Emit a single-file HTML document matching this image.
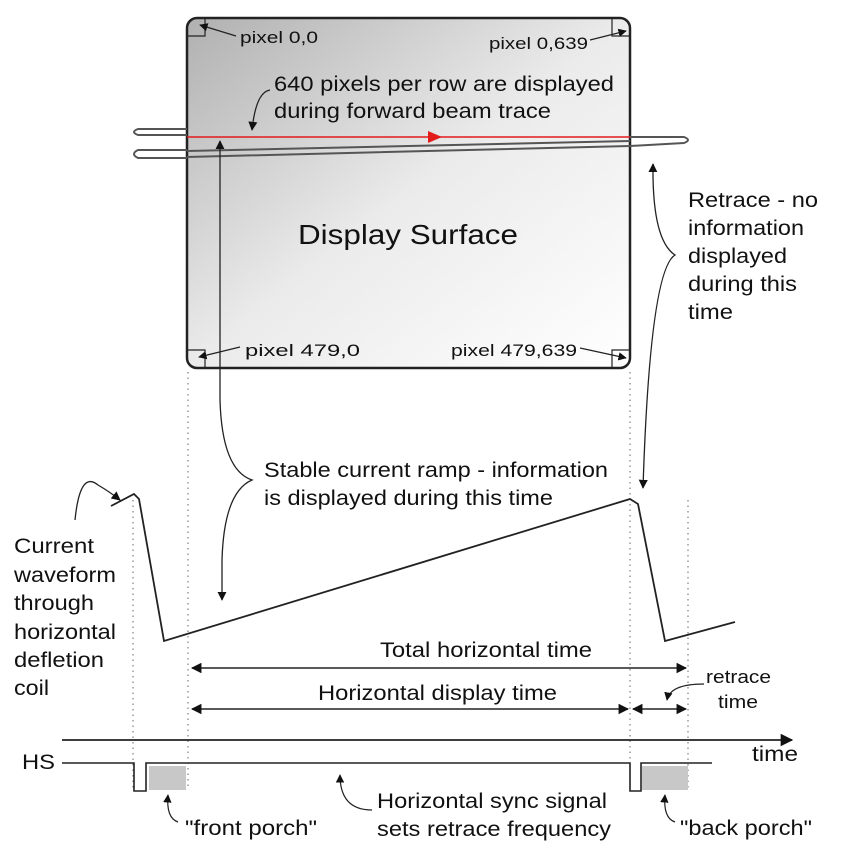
<!DOCTYPE html>
<html><head><meta charset="utf-8"><style>
html,body{margin:0;padding:0;background:#fff}
svg{display:block}
text{font-family:"Liberation Sans",sans-serif;fill:#111}
</style></head><body>
<svg width="865" height="859" viewBox="0 0 865 859" xmlns="http://www.w3.org/2000/svg">
<defs>
<linearGradient id="g" x1="0" y1="0" x2="1" y2="1">
<stop offset="0" stop-color="#b0b0b0"/><stop offset="0.5" stop-color="#ebebeb"/><stop offset="1" stop-color="#ffffff"/>
</linearGradient>
<marker id="a" viewBox="0 0 10 10" refX="9" refY="5" markerWidth="7" markerHeight="7" orient="auto-start-reverse"><path d="M0,0 L10,5 L0,10 z" fill="#111"/></marker>
</defs>
<rect x="187" y="18" width="443" height="350" rx="10" fill="url(#g)" stroke="#222" stroke-width="2.5"/>
<g stroke="#222" stroke-width="1.2" fill="none">
<path d="M187,36 H205 V18"/><path d="M612,18 V36 H630"/>
<path d="M187,350 H205 V368"/><path d="M612,368 V350 H630"/>
</g>
<g stroke="#222" stroke-width="1.2" fill="none" marker-end="url(#a)">
<path d="M236,36 L200,25"/><path d="M590,40 L626,31"/>
<path d="M240,347 L199,357"/><path d="M580,348 L626,358"/>
</g>
<g stroke="#555" stroke-width="2" fill="none">
<path d="M187,129 H138 Q130,132 138,135 H187"/>
<path d="M187,150 H138 Q130,154 138,158 H187"/>
<path d="M187,157 L630,146 L684,143 Q692,140 684,137 L630,137"/>
<path d="M187,151 L630,141"/>
</g>
<line x1="187" y1="137" x2="630" y2="137" stroke="#e31b1b" stroke-width="1.5"/>
<path d="M428,131 L442,137 L428,143 z" fill="#e31b1b"/>
<g font-size="17">
<text x="240" y="43" textLength="78" lengthAdjust="spacingAndGlyphs">pixel 0,0</text>
<text x="489" y="49" textLength="99" lengthAdjust="spacingAndGlyphs">pixel 0,639</text>
<text x="245" y="356" textLength="115" lengthAdjust="spacingAndGlyphs">pixel 479,0</text>
<text x="451" y="356" textLength="126" lengthAdjust="spacingAndGlyphs">pixel 479,639</text>
</g>
<g font-size="21">
<text x="274" y="91" textLength="340" lengthAdjust="spacingAndGlyphs">640 pixels per row are displayed</text>
<text x="274" y="118" textLength="277" lengthAdjust="spacingAndGlyphs">during forward beam trace</text>
</g>
<text x="298" y="244" font-size="28" textLength="220" lengthAdjust="spacingAndGlyphs">Display Surface</text>
<path d="M270,90 Q256,92 252,130" stroke="#222" stroke-width="1.3" fill="none" marker-end="url(#a)"/>
<g stroke="#666" stroke-width="1" stroke-dasharray="1.5,4">
<line x1="133" y1="500" x2="133" y2="790"/>
<line x1="188" y1="372" x2="188" y2="790"/>
<line x1="630" y1="372" x2="630" y2="790"/>
<line x1="688" y1="500" x2="688" y2="790"/>
</g>
<path d="M220,141 L220,400 Q222,470 252,480 Q224,492 222,560 L222,600" stroke="#222" stroke-width="1.3" fill="none" marker-start="url(#a)" marker-end="url(#a)"/>
<g font-size="21">
<text x="264" y="477" textLength="344" lengthAdjust="spacingAndGlyphs">Stable current ramp - information</text>
<text x="264" y="505" textLength="289" lengthAdjust="spacingAndGlyphs">is displayed during this time</text>
</g>
<path d="M653,164 Q652,240 675,255 Q650,270 643,488" stroke="#222" stroke-width="1.3" fill="none" marker-start="url(#a)" marker-end="url(#a)"/>
<g font-size="21">
<text x="688" y="207" textLength="130" lengthAdjust="spacingAndGlyphs">Retrace - no</text>
<text x="688" y="235" textLength="116" lengthAdjust="spacingAndGlyphs">information</text>
<text x="688" y="263" textLength="99" lengthAdjust="spacingAndGlyphs">displayed</text>
<text x="688" y="291" textLength="109" lengthAdjust="spacingAndGlyphs">during this</text>
<text x="688" y="319" textLength="45" lengthAdjust="spacingAndGlyphs">time</text>
</g>
<path d="M111,506 L134,494 L139,499 L164,641 L630,499 L638,504 L665,641 L735,622" stroke="#222" stroke-width="1.8" fill="none"/>
<path d="M75,520 Q80,470 98,485 Q110,492 120,500" stroke="#222" stroke-width="1.3" fill="none" marker-end="url(#a)"/>
<g font-size="21">
<text x="14" y="553" textLength="80" lengthAdjust="spacingAndGlyphs">Current</text>
<text x="14" y="582" textLength="102" lengthAdjust="spacingAndGlyphs">waveform</text>
<text x="14" y="610" textLength="80" lengthAdjust="spacingAndGlyphs">through</text>
<text x="14" y="639" textLength="102" lengthAdjust="spacingAndGlyphs">horizontal</text>
<text x="14" y="667" textLength="90" lengthAdjust="spacingAndGlyphs">defletion</text>
<text x="14" y="695" textLength="35" lengthAdjust="spacingAndGlyphs">coil</text>
</g>
<line x1="192" y1="668" x2="686" y2="668" stroke="#222" stroke-width="1.5" marker-start="url(#a)" marker-end="url(#a)"/>
<text x="380" y="657" font-size="21" textLength="212" lengthAdjust="spacingAndGlyphs">Total horizontal time</text>
<line x1="192" y1="709" x2="628" y2="709" stroke="#222" stroke-width="1.5" marker-start="url(#a)" marker-end="url(#a)"/>
<line x1="633" y1="709" x2="686" y2="709" stroke="#222" stroke-width="1.5" marker-start="url(#a)" marker-end="url(#a)"/>
<text x="318" y="700" font-size="21" textLength="239" lengthAdjust="spacingAndGlyphs">Horizontal display time</text>
<text x="706" y="683" font-size="18" textLength="65" lengthAdjust="spacingAndGlyphs">retrace</text>
<text x="718" y="708" font-size="18" textLength="40" lengthAdjust="spacingAndGlyphs">time</text>
<path d="M704,684 Q670,684 667,700" stroke="#222" stroke-width="1.2" fill="none" marker-end="url(#a)"/>
<line x1="62" y1="740" x2="792" y2="740" stroke="#222" stroke-width="1.8" marker-end="url(#a)"/>
<text x="752" y="761" font-size="21" textLength="46" lengthAdjust="spacingAndGlyphs">time</text>
<text x="22" y="769" font-size="21" textLength="33" lengthAdjust="spacingAndGlyphs">HS</text>
<path d="M62,763 H134 V791 H146 V763 H630 V791 H641 V763 H712" stroke="#222" stroke-width="1.6" fill="none"/>
<rect x="149" y="766" width="37" height="24" fill="#c8c8c8"/>
<rect x="642" y="766" width="46" height="24" fill="#c8c8c8"/>
<path d="M178,822 Q166,818 168,795" stroke="#222" stroke-width="1.2" fill="none" marker-end="url(#a)"/>
<text x="185" y="835" font-size="21" textLength="132" lengthAdjust="spacingAndGlyphs">"front porch"</text>
<path d="M372,810 Q340,810 340,775" stroke="#222" stroke-width="1.2" fill="none" marker-end="url(#a)"/>
<text x="377" y="808" font-size="21" textLength="230" lengthAdjust="spacingAndGlyphs">Horizontal sync signal</text>
<text x="377" y="836" font-size="21" textLength="234" lengthAdjust="spacingAndGlyphs">sets retrace frequency</text>
<path d="M675,822 Q663,818 665,795" stroke="#222" stroke-width="1.2" fill="none" marker-end="url(#a)"/>
<text x="680" y="835" font-size="21" textLength="132" lengthAdjust="spacingAndGlyphs">"back porch"</text>
</svg>
</body></html>
